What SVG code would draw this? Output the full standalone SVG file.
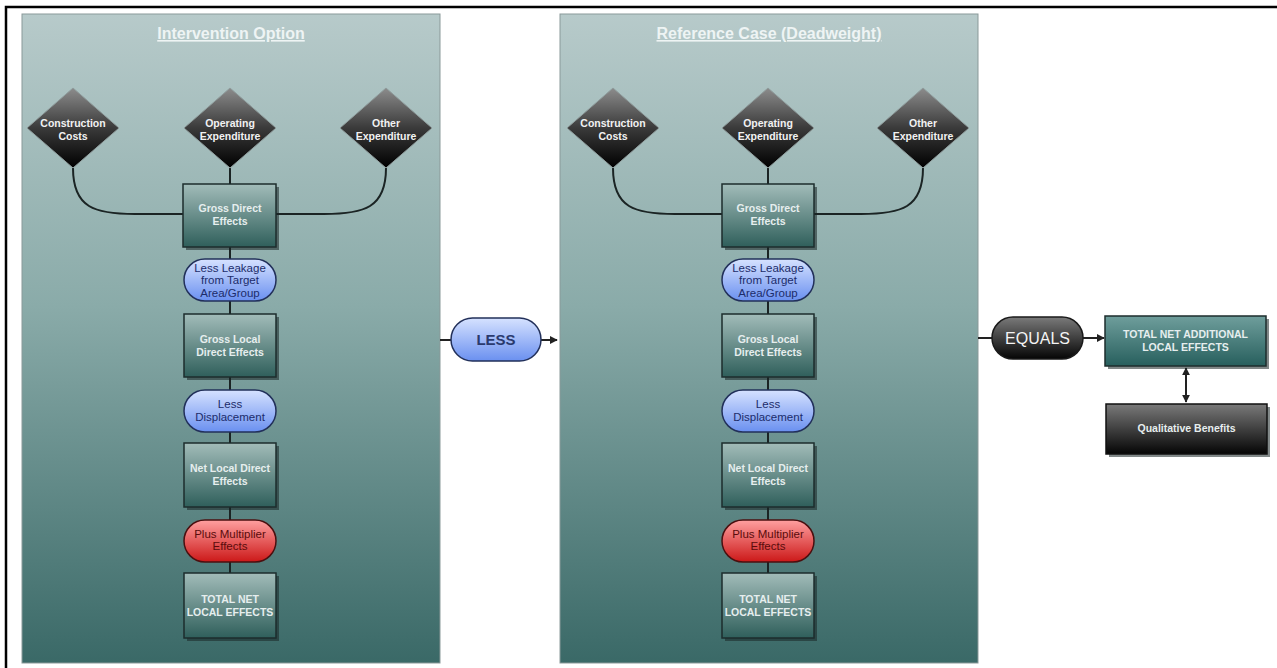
<svg xmlns="http://www.w3.org/2000/svg" width="1277" height="668" viewBox="0 0 1277 668">
<style>
.title{font-family:"Liberation Sans",Arial,sans-serif;font-weight:bold;font-size:16px;fill:#eef4f4;text-decoration:underline;text-anchor:middle}
.dt{font-family:"Liberation Sans",Arial,sans-serif;font-weight:bold;font-size:10.5px;fill:#f2f2f2;text-anchor:middle}
.bt{font-family:"Liberation Sans",Arial,sans-serif;font-weight:bold;font-size:10.5px;fill:#e6eeee;text-anchor:middle}
.pt{font-family:"Liberation Sans",Arial,sans-serif;font-size:11.5px;fill:#1c2c6a;text-anchor:middle}
.rt{font-family:"Liberation Sans",Arial,sans-serif;font-size:11.5px;fill:#5a0c0c;text-anchor:middle}
.diamond{fill:url(#gDiamond);stroke:#8f9c9c;stroke-width:1}
.box{fill:url(#gBox);stroke:#1d2d2d;stroke-width:1.5}
.shadow{fill:#1a2626;opacity:0.55}
.pill{fill:url(#gBlue);stroke:#22305a;stroke-width:1.5}
.rpill{fill:url(#gRed);stroke:#4a1010;stroke-width:1.5}
.conn{fill:none;stroke:#1b2424;stroke-width:2}
.arr{fill:none;stroke:#222;stroke-width:2}
</style>
<defs>
<linearGradient id="gPanel" x1="0" y1="0" x2="0" y2="1">
<stop offset="0" stop-color="#b7caca"/>
<stop offset="0.45" stop-color="#8aaba9"/>
<stop offset="1" stop-color="#3a6967"/>
</linearGradient>
<linearGradient id="gDiamond" x1="0" y1="0" x2="0" y2="1">
<stop offset="0" stop-color="#8c8c8c"/>
<stop offset="0.5" stop-color="#3a3a3a"/>
<stop offset="1" stop-color="#000"/>
</linearGradient>
<linearGradient id="gBox" x1="0" y1="0" x2="0" y2="1">
<stop offset="0" stop-color="#a2bcb9"/>
<stop offset="1" stop-color="#2f5f5b"/>
</linearGradient>
<linearGradient id="gBlue" x1="0" y1="0" x2="0" y2="1">
<stop offset="0" stop-color="#d6e2ff"/>
<stop offset="1" stop-color="#6a90f0"/>
</linearGradient>
<linearGradient id="gRed" x1="0" y1="0" x2="0" y2="1">
<stop offset="0" stop-color="#ffa0a0"/>
<stop offset="1" stop-color="#cc1818"/>
</linearGradient>
<linearGradient id="gDark" x1="0" y1="0" x2="0" y2="1">
<stop offset="0" stop-color="#7a7a7a"/>
<stop offset="1" stop-color="#050505"/>
</linearGradient>
<linearGradient id="gTeal" x1="0" y1="0" x2="0" y2="1">
<stop offset="0" stop-color="#6f9e9c"/>
<stop offset="1" stop-color="#275f5d"/>
</linearGradient>
<marker id="ah" viewBox="0 0 10 10" refX="9" refY="5" markerWidth="4" markerHeight="4" orient="auto-start-reverse">
<path d="M0,0 L10,5 L0,10 z" fill="#222"/>
</marker>
</defs>
<rect x="0" y="0" width="1277" height="668" fill="#fff"/>
<path d="M6,668 L6,7 L1277,7" fill="none" stroke="#000" stroke-width="2.5"/>

<!-- panels -->
<g id="panel-intervention">
<rect x="22" y="14" width="418" height="649" fill="url(#gPanel)" stroke="#8a9999" stroke-width="1"/>
<text class="title" x="231" y="39">Intervention Option</text>
</g>
<g id="panel-reference">
<rect x="560" y="14" width="418" height="649" fill="url(#gPanel)" stroke="#8a9999" stroke-width="1"/>
<text class="title" x="769" y="39">Reference Case (Deadweight)</text>
</g>

<!-- connectors -->
<g id="connectors">
<g id="conn-panel1">
<path class="conn" d="M73,168 C73,208 95,214 135,214 L183,214"/>
<path class="conn" d="M386,168 C386,208 364,214 324,214 L276,214"/>
<path class="conn" d="M230,168 L230,184"/>
<path class="conn" d="M230,247 L230,259"/>
<path class="conn" d="M230,301 L230,314"/>
<path class="conn" d="M230,377 L230,390"/>
<path class="conn" d="M230,432 L230,443"/>
<path class="conn" d="M230,507 L230,520"/>
<path class="conn" d="M230,562 L230,573"/>
</g>
<g id="conn-panel2" transform="translate(538,0)">
<path class="conn" d="M75,168 C75,208 97,214 137,214 L184,214"/>
<path class="conn" d="M385,168 C385,208 363,214 323,214 L275,214"/>
<path class="conn" d="M230,168 L230,184"/>
<path class="conn" d="M230,247 L230,259"/>
<path class="conn" d="M230,301 L230,314"/>
<path class="conn" d="M230,377 L230,390"/>
<path class="conn" d="M230,432 L230,443"/>
<path class="conn" d="M230,507 L230,520"/>
<path class="conn" d="M230,562 L230,573"/>
</g>
<path class="arr" d="M440,340 L451,340"/>
<path class="arr" d="M541,340 L557,340" marker-end="url(#ah)"/>
<path class="arr" d="M978,338 L992,338"/>
<path class="arr" d="M1083,338 L1104,338" marker-end="url(#ah)"/>
<path class="arr" d="M1186,368 L1186,402" marker-start="url(#ah)" marker-end="url(#ah)"/>
</g>

<!-- panel 1 nodes -->
<g id="p1-construction"><path class="diamond" d="M73,88 L119,128 L73,168 L27,128 Z"/><text class="dt" x="73" y="127">Construction</text><text class="dt" x="73" y="140">Costs</text></g>
<g id="p1-operating"><path class="diamond" d="M230,88 L276,128 L230,168 L184,128 Z"/><text class="dt" x="230" y="127">Operating</text><text class="dt" x="230" y="140">Expenditure</text></g>
<g id="p1-other"><path class="diamond" d="M386,88 L432,128 L386,168 L340,128 Z"/><text class="dt" x="386" y="127">Other</text><text class="dt" x="386" y="140">Expenditure</text></g>
<g id="p1-gross-direct"><rect class="shadow" x="186" y="187" width="93" height="63"/><rect class="box" x="183" y="184" width="93" height="63"/><text class="bt" x="230" y="212">Gross Direct</text><text class="bt" x="230" y="225">Effects</text></g>
<g id="p1-leakage"><rect class="pill" x="184" y="259" width="92" height="42" rx="21"/><text class="pt" x="230" y="272">Less Leakage</text><text class="pt" x="230" y="284">from Target</text><text class="pt" x="230" y="297">Area/Group</text></g>
<g id="p1-gross-local"><rect class="shadow" x="187" y="317" width="92" height="63"/><rect class="box" x="184" y="314" width="92" height="63"/><text class="bt" x="230" y="343">Gross Local</text><text class="bt" x="230" y="356">Direct Effects</text></g>
<g id="p1-displacement"><rect class="pill" x="184" y="390" width="92" height="42" rx="21"/><text class="pt" x="230" y="408">Less</text><text class="pt" x="230" y="421">Displacement</text></g>
<g id="p1-net-local"><rect class="shadow" x="187" y="446" width="92" height="64"/><rect class="box" x="184" y="443" width="92" height="64"/><text class="bt" x="230" y="472">Net Local Direct</text><text class="bt" x="230" y="485">Effects</text></g>
<g id="p1-multiplier"><rect class="rpill" x="184" y="520" width="92" height="42" rx="21"/><text class="rt" x="230" y="538">Plus Multiplier</text><text class="rt" x="230" y="550">Effects</text></g>
<g id="p1-total-net"><rect class="shadow" x="187" y="576" width="92" height="65"/><rect class="box" x="184" y="573" width="92" height="65"/><text class="bt" x="230" y="603">TOTAL NET</text><text class="bt" x="230" y="616">LOCAL EFFECTS</text></g>

<!-- panel 2 nodes -->
<g id="p2-construction"><path class="diamond" d="M613,88 L659,128 L613,168 L567,128 Z"/><text class="dt" x="613" y="127">Construction</text><text class="dt" x="613" y="140">Costs</text></g>
<g id="p2-operating"><path class="diamond" d="M768,88 L814,128 L768,168 L722,128 Z"/><text class="dt" x="768" y="127">Operating</text><text class="dt" x="768" y="140">Expenditure</text></g>
<g id="p2-other"><path class="diamond" d="M923,88 L969,128 L923,168 L877,128 Z"/><text class="dt" x="923" y="127">Other</text><text class="dt" x="923" y="140">Expenditure</text></g>
<g id="p2-gross-direct"><rect class="shadow" x="725" y="187" width="92" height="63"/><rect class="box" x="722" y="184" width="92" height="63"/><text class="bt" x="768" y="212">Gross Direct</text><text class="bt" x="768" y="225">Effects</text></g>
<g id="p2-leakage"><rect class="pill" x="722" y="259" width="92" height="42" rx="21"/><text class="pt" x="768" y="272">Less Leakage</text><text class="pt" x="768" y="284">from Target</text><text class="pt" x="768" y="297">Area/Group</text></g>
<g id="p2-gross-local"><rect class="shadow" x="725" y="317" width="92" height="63"/><rect class="box" x="722" y="314" width="92" height="63"/><text class="bt" x="768" y="343">Gross Local</text><text class="bt" x="768" y="356">Direct Effects</text></g>
<g id="p2-displacement"><rect class="pill" x="722" y="390" width="92" height="42" rx="21"/><text class="pt" x="768" y="408">Less</text><text class="pt" x="768" y="421">Displacement</text></g>
<g id="p2-net-local"><rect class="shadow" x="725" y="446" width="92" height="64"/><rect class="box" x="722" y="443" width="92" height="64"/><text class="bt" x="768" y="472">Net Local Direct</text><text class="bt" x="768" y="485">Effects</text></g>
<g id="p2-multiplier"><rect class="rpill" x="722" y="520" width="92" height="42" rx="21"/><text class="rt" x="768" y="538">Plus Multiplier</text><text class="rt" x="768" y="550">Effects</text></g>
<g id="p2-total-net"><rect class="shadow" x="725" y="576" width="92" height="65"/><rect class="box" x="722" y="573" width="92" height="65"/><text class="bt" x="768" y="603">TOTAL NET</text><text class="bt" x="768" y="616">LOCAL EFFECTS</text></g>

<!-- operators and results -->
<g id="less"><rect class="pill" x="451" y="318" width="90" height="43" rx="21.5"/><text x="496" y="345" font-family="Liberation Sans, Arial, sans-serif" font-weight="bold" font-size="15" fill="#2a3a6e" text-anchor="middle">LESS</text></g>
<g id="equals"><rect x="992" y="317" width="91" height="42" rx="21" fill="url(#gDark)" stroke="#1a1a1a" stroke-width="1.5"/><text x="1037.5" y="344" font-family="Liberation Sans, Arial, sans-serif" font-size="16" fill="#f4f4f4" text-anchor="middle">EQUALS</text></g>
<g id="total-net-additional"><rect class="shadow" x="1108" y="319" width="161" height="50"/><rect x="1105" y="316" width="161" height="50" fill="url(#gTeal)" stroke="#1d2d2d" stroke-width="1.5"/><text class="bt" x="1185.5" y="338" font-size="10">TOTAL NET ADDITIONAL</text><text class="bt" x="1185.5" y="351" font-size="10">LOCAL EFFECTS</text></g>
<g id="qualitative-benefits"><rect class="shadow" x="1109" y="407" width="161" height="50"/><rect x="1106" y="404" width="161" height="50" fill="url(#gDark)" stroke="#111" stroke-width="1.5"/><text class="bt" x="1186.5" y="432" font-size="10">Qualitative Benefits</text></g>
</svg>
